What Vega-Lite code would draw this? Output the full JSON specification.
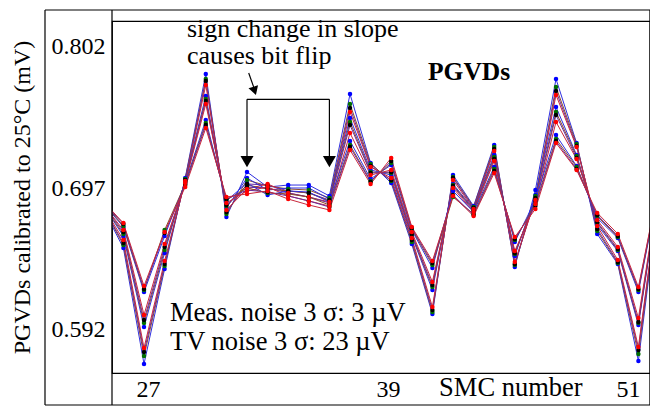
{
  "$schema": "https://vega.github.io/schema/vega-lite/v6.json",
  "width": 538,
  "height": 352,
  "autosize": {"type": "none"},
  "padding": {"left": 112, "top": 21, "right": 0, "bottom": 36},
  "background": "white",
  "config": {"view": {"stroke": "black", "strokeWidth": 1.2}, "font": "Liberation Serif"},
  "data": {"values": [
    {"n":25,"s":"b1","v":0.6822},{"n":25,"s":"g1","v":0.6829},{"n":25,"s":"k1","v":0.6829},{"n":25,"s":"r1","v":0.6836},{"n":25,"s":"b2","v":0.6844},{"n":25,"s":"g2","v":0.6844},{"n":25,"s":"k2","v":0.6851},{"n":25,"s":"r2","v":0.6851},{"n":25,"s":"b3","v":0.6859},{"n":25,"s":"g3","v":0.6866},{"n":25,"s":"k3","v":0.6866},{"n":25,"s":"r3","v":0.6874},
    {"n":26,"s":"b1","v":0.6525},{"n":26,"s":"g1","v":0.6547},{"n":26,"s":"k1","v":0.6562},{"n":26,"s":"r1","v":0.6584},{"n":26,"s":"b2","v":0.6614},{"n":26,"s":"g2","v":0.6629},{"n":26,"s":"k2","v":0.6643},{"n":26,"s":"r2","v":0.6658},{"n":26,"s":"b3","v":0.6681},{"n":26,"s":"g3","v":0.6688},{"n":26,"s":"k3","v":0.6703},{"n":26,"s":"r3","v":0.6710},
    {"n":27,"s":"b1","v":0.5664},{"n":27,"s":"g1","v":0.5723},{"n":27,"s":"k1","v":0.5753},{"n":27,"s":"r1","v":0.5783},{"n":27,"s":"b2","v":0.5939},{"n":27,"s":"g2","v":0.5968},{"n":27,"s":"k2","v":0.5991},{"n":27,"s":"r2","v":0.6028},{"n":27,"s":"b3","v":0.6198},{"n":27,"s":"g3","v":0.6213},{"n":27,"s":"k3","v":0.6221},{"n":27,"s":"r3","v":0.6243},
    {"n":28,"s":"b1","v":0.6369},{"n":28,"s":"g1","v":0.6391},{"n":28,"s":"k1","v":0.6406},{"n":28,"s":"r1","v":0.6428},{"n":28,"s":"b2","v":0.6488},{"n":28,"s":"g2","v":0.6510},{"n":28,"s":"k2","v":0.6532},{"n":28,"s":"r2","v":0.6554},{"n":28,"s":"b3","v":0.6614},{"n":28,"s":"g3","v":0.6658},{"n":28,"s":"k3","v":0.6636},{"n":28,"s":"r3","v":0.6643},
    {"n":29,"s":"b1","v":0.7044},{"n":29,"s":"g1","v":0.7037},{"n":29,"s":"k1","v":0.7029},{"n":29,"s":"r1","v":0.7022},{"n":29,"s":"b2","v":0.7029},{"n":29,"s":"g2","v":0.7022},{"n":29,"s":"k2","v":0.7015},{"n":29,"s":"r2","v":0.7007},{"n":29,"s":"b3","v":0.7007},{"n":29,"s":"g3","v":0.7000},{"n":29,"s":"k3","v":0.6992},{"n":29,"s":"r3","v":0.6977},
    {"n":30,"s":"b1","v":0.7816},{"n":30,"s":"g1","v":0.7779},{"n":30,"s":"k1","v":0.7764},{"n":30,"s":"r1","v":0.7734},{"n":30,"s":"b2","v":0.7653},{"n":30,"s":"g2","v":0.7630},{"n":30,"s":"k2","v":0.7616},{"n":30,"s":"r2","v":0.7593},{"n":30,"s":"b3","v":0.7475},{"n":30,"s":"g3","v":0.7452},{"n":30,"s":"k3","v":0.7437},{"n":30,"s":"r3","v":0.7415},
    {"n":31,"s":"b1","v":0.6755},{"n":31,"s":"g1","v":0.6777},{"n":31,"s":"k1","v":0.6792},{"n":31,"s":"r1","v":0.6807},{"n":31,"s":"b2","v":0.6822},{"n":31,"s":"g2","v":0.6836},{"n":31,"s":"k2","v":0.6844},{"n":31,"s":"r2","v":0.6859},{"n":31,"s":"b3","v":0.6874},{"n":31,"s":"g3","v":0.6881},{"n":31,"s":"k3","v":0.6888},{"n":31,"s":"r3","v":0.6903},
    {"n":32,"s":"b1","v":0.7089},{"n":32,"s":"g1","v":0.7029},{"n":32,"s":"k1","v":0.7000},{"n":32,"s":"r1","v":0.6963},{"n":32,"s":"b2","v":0.7044},{"n":32,"s":"g2","v":0.6992},{"n":32,"s":"k2","v":0.6977},{"n":32,"s":"r2","v":0.6948},{"n":32,"s":"b3","v":0.7007},{"n":32,"s":"g3","v":0.6970},{"n":32,"s":"k3","v":0.6955},{"n":32,"s":"r3","v":0.6926},
    {"n":33,"s":"b1","v":0.6977},{"n":33,"s":"g1","v":0.6985},{"n":33,"s":"k1","v":0.6992},{"n":33,"s":"r1","v":0.7000},{"n":33,"s":"b2","v":0.6955},{"n":33,"s":"g2","v":0.6963},{"n":33,"s":"k2","v":0.6970},{"n":33,"s":"r2","v":0.6977},{"n":33,"s":"b3","v":0.6918},{"n":33,"s":"g3","v":0.6933},{"n":33,"s":"k3","v":0.6940},{"n":33,"s":"r3","v":0.6948},
    {"n":34,"s":"b1","v":0.6992},{"n":34,"s":"g1","v":0.6963},{"n":34,"s":"k1","v":0.6948},{"n":34,"s":"r1","v":0.6933},{"n":34,"s":"b2","v":0.6970},{"n":34,"s":"g2","v":0.6948},{"n":34,"s":"k2","v":0.6933},{"n":34,"s":"r2","v":0.6911},{"n":34,"s":"b3","v":0.6948},{"n":34,"s":"g3","v":0.6926},{"n":34,"s":"k3","v":0.6911},{"n":34,"s":"r3","v":0.6888},
    {"n":35,"s":"b1","v":0.6992},{"n":35,"s":"g1","v":0.6955},{"n":35,"s":"k1","v":0.6933},{"n":35,"s":"r1","v":0.6903},{"n":35,"s":"b2","v":0.6970},{"n":35,"s":"g2","v":0.6933},{"n":35,"s":"k2","v":0.6903},{"n":35,"s":"r2","v":0.6874},{"n":35,"s":"b3","v":0.6940},{"n":35,"s":"g3","v":0.6903},{"n":35,"s":"k3","v":0.6874},{"n":35,"s":"r3","v":0.6844},
    {"n":36,"s":"b1","v":0.6911},{"n":36,"s":"g1","v":0.6896},{"n":36,"s":"k1","v":0.6881},{"n":36,"s":"r1","v":0.6866},{"n":36,"s":"b2","v":0.6888},{"n":36,"s":"g2","v":0.6874},{"n":36,"s":"k2","v":0.6859},{"n":36,"s":"r2","v":0.6836},{"n":36,"s":"b3","v":0.6866},{"n":36,"s":"g3","v":0.6844},{"n":36,"s":"k3","v":0.6829},{"n":36,"s":"r3","v":0.6807},
    {"n":37,"s":"b1","v":0.7667},{"n":37,"s":"g1","v":0.7593},{"n":37,"s":"k1","v":0.7564},{"n":37,"s":"r1","v":0.7534},{"n":37,"s":"b2","v":0.7489},{"n":37,"s":"g2","v":0.7460},{"n":37,"s":"k2","v":0.7437},{"n":37,"s":"r2","v":0.7378},{"n":37,"s":"b3","v":0.7319},{"n":37,"s":"g3","v":0.7289},{"n":37,"s":"k3","v":0.7274},{"n":37,"s":"r3","v":0.7252},
    {"n":38,"s":"b1","v":0.7155},{"n":38,"s":"g1","v":0.7148},{"n":38,"s":"k1","v":0.7133},{"n":38,"s":"r1","v":0.7126},{"n":38,"s":"b2","v":0.7104},{"n":38,"s":"g2","v":0.7089},{"n":38,"s":"k2","v":0.7081},{"n":38,"s":"r2","v":0.7066},{"n":38,"s":"b3","v":0.7037},{"n":38,"s":"g3","v":0.7022},{"n":38,"s":"k3","v":0.7015},{"n":38,"s":"r3","v":0.7000},
    {"n":39,"s":"b1","v":0.7007},{"n":39,"s":"g1","v":0.7022},{"n":39,"s":"k1","v":0.7029},{"n":39,"s":"r1","v":0.7044},{"n":39,"s":"b2","v":0.7066},{"n":39,"s":"g2","v":0.7081},{"n":39,"s":"k2","v":0.7089},{"n":39,"s":"r2","v":0.7104},{"n":39,"s":"b3","v":0.7141},{"n":39,"s":"g3","v":0.7155},{"n":39,"s":"k3","v":0.7170},{"n":39,"s":"r3","v":0.7193},
    {"n":40,"s":"b1","v":0.6554},{"n":40,"s":"g1","v":0.6569},{"n":40,"s":"k1","v":0.6584},{"n":40,"s":"r1","v":0.6599},{"n":40,"s":"b2","v":0.6614},{"n":40,"s":"g2","v":0.6621},{"n":40,"s":"k2","v":0.6629},{"n":40,"s":"r2","v":0.6643},{"n":40,"s":"b3","v":0.6658},{"n":40,"s":"g3","v":0.6666},{"n":40,"s":"k3","v":0.6673},{"n":40,"s":"r3","v":0.6681},
    {"n":41,"s":"b1","v":0.6035},{"n":41,"s":"g1","v":0.6050},{"n":41,"s":"k1","v":0.6065},{"n":41,"s":"r1","v":0.6087},{"n":41,"s":"b2","v":0.6213},{"n":41,"s":"g2","v":0.6235},{"n":41,"s":"k2","v":0.6250},{"n":41,"s":"r2","v":0.6273},{"n":41,"s":"b3","v":0.6376},{"n":41,"s":"g3","v":0.6399},{"n":41,"s":"k3","v":0.6413},{"n":41,"s":"r3","v":0.6428},
    {"n":42,"s":"b1","v":0.7066},{"n":42,"s":"g1","v":0.7052},{"n":42,"s":"k1","v":0.7044},{"n":42,"s":"r1","v":0.7029},{"n":42,"s":"b2","v":0.7000},{"n":42,"s":"g2","v":0.6992},{"n":42,"s":"k2","v":0.6985},{"n":42,"s":"r2","v":0.6970},{"n":42,"s":"b3","v":0.6948},{"n":42,"s":"g3","v":0.6903},{"n":42,"s":"k3","v":0.6918},{"n":42,"s":"r3","v":0.6911},
    {"n":43,"s":"b1","v":0.6836},{"n":43,"s":"g1","v":0.6829},{"n":43,"s":"k1","v":0.6822},{"n":43,"s":"r1","v":0.6814},{"n":43,"s":"b2","v":0.6814},{"n":43,"s":"g2","v":0.6807},{"n":43,"s":"k2","v":0.6799},{"n":43,"s":"r2","v":0.6792},{"n":43,"s":"b3","v":0.6792},{"n":43,"s":"g3","v":0.6777},{"n":43,"s":"k3","v":0.6770},{"n":43,"s":"r3","v":0.6762},
    {"n":44,"s":"b1","v":0.7289},{"n":44,"s":"g1","v":0.7274},{"n":44,"s":"k1","v":0.7259},{"n":44,"s":"r1","v":0.7245},{"n":44,"s":"b2","v":0.7215},{"n":44,"s":"g2","v":0.7200},{"n":44,"s":"k2","v":0.7185},{"n":44,"s":"r2","v":0.7170},{"n":44,"s":"b3","v":0.7126},{"n":44,"s":"g3","v":0.7111},{"n":44,"s":"k3","v":0.7096},{"n":44,"s":"r3","v":0.7081},
    {"n":45,"s":"b1","v":0.6384},{"n":45,"s":"g1","v":0.6399},{"n":45,"s":"k1","v":0.6406},{"n":45,"s":"r1","v":0.6421},{"n":45,"s":"b2","v":0.6465},{"n":45,"s":"g2","v":0.6480},{"n":45,"s":"k2","v":0.6488},{"n":45,"s":"r2","v":0.6503},{"n":45,"s":"b3","v":0.6569},{"n":45,"s":"g3","v":0.6584},{"n":45,"s":"k3","v":0.6592},{"n":45,"s":"r3","v":0.6606},
    {"n":46,"s":"b1","v":0.6955},{"n":46,"s":"g1","v":0.6911},{"n":46,"s":"k1","v":0.6896},{"n":46,"s":"r1","v":0.6881},{"n":46,"s":"b2","v":0.6918},{"n":46,"s":"g2","v":0.6888},{"n":46,"s":"k2","v":0.6874},{"n":46,"s":"r2","v":0.6851},{"n":46,"s":"b3","v":0.6881},{"n":46,"s":"g3","v":0.6851},{"n":46,"s":"k3","v":0.6836},{"n":46,"s":"r3","v":0.6814},
    {"n":47,"s":"b1","v":0.7779},{"n":47,"s":"g1","v":0.7719},{"n":47,"s":"k1","v":0.7690},{"n":47,"s":"r1","v":0.7660},{"n":47,"s":"b2","v":0.7571},{"n":47,"s":"g2","v":0.7534},{"n":47,"s":"k2","v":0.7512},{"n":47,"s":"r2","v":0.7460},{"n":47,"s":"b3","v":0.7363},{"n":47,"s":"g3","v":0.7334},{"n":47,"s":"k3","v":0.7319},{"n":47,"s":"r3","v":0.7304},
    {"n":48,"s":"b1","v":0.7304},{"n":48,"s":"g1","v":0.7296},{"n":48,"s":"k1","v":0.7282},{"n":48,"s":"r1","v":0.7274},{"n":48,"s":"b2","v":0.7215},{"n":48,"s":"g2","v":0.7207},{"n":48,"s":"k2","v":0.7193},{"n":48,"s":"r2","v":0.7185},{"n":48,"s":"b3","v":0.7133},{"n":48,"s":"g3","v":0.7126},{"n":48,"s":"k3","v":0.7111},{"n":48,"s":"r3","v":0.7104},
    {"n":49,"s":"b1","v":0.6629},{"n":49,"s":"g1","v":0.6651},{"n":49,"s":"k1","v":0.6666},{"n":49,"s":"r1","v":0.6688},{"n":49,"s":"b2","v":0.6695},{"n":49,"s":"g2","v":0.6710},{"n":49,"s":"k2","v":0.6718},{"n":49,"s":"r2","v":0.6733},{"n":49,"s":"b3","v":0.6747},{"n":49,"s":"g3","v":0.6762},{"n":49,"s":"k3","v":0.6770},{"n":49,"s":"r3","v":0.6785},
    {"n":50,"s":"b1","v":0.6406},{"n":50,"s":"g1","v":0.6413},{"n":50,"s":"k1","v":0.6421},{"n":50,"s":"r1","v":0.6436},{"n":50,"s":"b2","v":0.6503},{"n":50,"s":"g2","v":0.6510},{"n":50,"s":"k2","v":0.6517},{"n":50,"s":"r2","v":0.6532},{"n":50,"s":"b3","v":0.6599},{"n":50,"s":"g3","v":0.6606},{"n":50,"s":"k3","v":0.6614},{"n":50,"s":"r3","v":0.6629},
    {"n":51,"s":"b1","v":0.5686},{"n":51,"s":"g1","v":0.5738},{"n":51,"s":"k1","v":0.5768},{"n":51,"s":"r1","v":0.5790},{"n":51,"s":"b2","v":0.5953},{"n":51,"s":"g2","v":0.5968},{"n":51,"s":"k2","v":0.5976},{"n":51,"s":"r2","v":0.6005},{"n":51,"s":"b3","v":0.6198},{"n":51,"s":"g3","v":0.6213},{"n":51,"s":"k3","v":0.6221},{"n":51,"s":"r3","v":0.6235},
    {"n":52,"s":"b1","v":0.6918},{"n":52,"s":"g1","v":0.6926},{"n":52,"s":"k1","v":0.6933},{"n":52,"s":"r1","v":0.6940},{"n":52,"s":"b2","v":0.6948},{"n":52,"s":"g2","v":0.6955},{"n":52,"s":"k2","v":0.6963},{"n":52,"s":"r2","v":0.6970},{"n":52,"s":"b3","v":0.6977},{"n":52,"s":"g3","v":0.6985},{"n":52,"s":"k3","v":0.6992},{"n":52,"s":"r3","v":0.7000}
  ]},
  "layer": [
    {
      "mark": {"type": "line", "clip": true, "strokeWidth": 1},
      "encoding": {
        "x": {"field": "n", "type": "quantitative",
          "scale": {"domain": [25.4466, 51.5631], "nice": false, "zero": false},
          "axis": {"values": [27.19, 38.84, 50.5], "labelExpr": "format(round(datum.value), 'd')", "ticks": false, "domain": false, "grid": false, "labelFlush": false,
            "labelFont": "Liberation Serif", "labelFontSize": 24, "labelColor": "black", "labelPadding": 4, "title": null}},
        "y": {"field": "v", "type": "quantitative",
          "scale": {"domain": [0.55973, 0.820914], "nice": false, "zero": false},
          "axis": {"values": [0.592, 0.697, 0.802], "format": ".3f", "ticks": false, "domain": false, "grid": false,
            "labelFont": "Liberation Serif", "labelFontSize": 24, "labelColor": "black", "labelPadding": 7,
            "title": "PGVDs calibrated to 25°C (mV)", "titleFont": "Liberation Serif", "titleFontSize": 24,
            "titleFontWeight": "normal", "titleColor": "black", "titlePadding": 17}},
        "stroke": {"field": "s", "type": "nominal", "legend": null,
          "scale": {"domain": ["b1","b2","b3","g1","g2","g3","k1","k2","k3","r1","r2","r3"],
            "range": ["#2f2fe0","#2f2fe0","#2f2fe0","#8a4a2a","#8a4a2a","#8a4a2a","#6a2a9a","#6a2a9a","#6a2a9a","#c8283c","#c8283c","#c8283c"]}}
      }
    },
    {
      "mark": {"type": "point", "filled": true, "clip": true, "size": 20, "opacity": 1, "shape": "circle"},
      "encoding": {
        "x": {"field": "n", "type": "quantitative"},
        "y": {"field": "v", "type": "quantitative"},
        "fill": {"field": "s", "type": "nominal", "legend": null,
          "scale": {"domain": ["b1","b2","b3","g1","g2","g3","k1","k2","k3","r1","r2","r3"],
            "range": ["#0000ff","#0000ff","#0000ff","#007000","#007000","#007000","#000000","#000000","#000000","#ff0000","#ff0000","#ff0000"]}},
        "order": {"field": "s", "type": "nominal"}
      }
    },
    {"data": {"values": [{}]}, "mark": {"type": "rule", "color": "black", "strokeWidth": 1.2},
      "encoding": {"x": {"datum": 22.194}, "y": {"datum": 0.829076}, "y2": {"datum": 0.535986}}},
    {"data": {"values": [{}]}, "mark": {"type": "rule", "color": "black", "strokeWidth": 1.2},
      "encoding": {"x": {"datum": 25.4466}, "y": {"datum": 0.829076}, "y2": {"datum": 0.535986}}},
    {"data": {"values": [{}]}, "mark": {"type": "rule", "color": "black", "strokeWidth": 1.2},
      "encoding": {"x": {"datum": 51.56}, "y": {"datum": 0.829076}, "y2": {"datum": 0.535986}}},
    {"data": {"values": [{}]}, "mark": {"type": "rule", "color": "black", "strokeWidth": 1.2},
      "encoding": {"x": {"datum": 22.194}, "x2": {"datum": 51.5631}, "y": {"datum": 0.829076}}},
    {"data": {"values": [{}]}, "mark": {"type": "rule", "color": "black", "strokeWidth": 1.2},
      "encoding": {"x": {"datum": 22.194}, "x2": {"datum": 51.5631}, "y": {"datum": 0.535986}}},
    {"data": {"values": [{}]}, "mark": {"type": "rule", "color": "black", "strokeWidth": 1.2},
      "encoding": {"x": {"datum": 32}, "x2": {"datum": 36}, "y": {"datum": 0.76282}}},
    {"data": {"values": [{}]}, "mark": {"type": "rule", "color": "black", "strokeWidth": 1.2},
      "encoding": {"x": {"datum": 32}, "y": {"datum": 0.76282}, "y2": {"datum": 0.7193}}},
    {"data": {"values": [{}]}, "mark": {"type": "rule", "color": "black", "strokeWidth": 1.2},
      "encoding": {"x": {"datum": 36}, "y": {"datum": 0.76282}, "y2": {"datum": 0.7193}}},
    {"data": {"values": [{}]}, "mark": {"type": "point", "shape": "triangle-down", "filled": true, "color": "black", "size": 169, "opacity": 1},
      "encoding": {"x": {"datum": 32}, "y": {"datum": 0.71652}}},
    {"data": {"values": [{}]}, "mark": {"type": "point", "shape": "triangle-down", "filled": true, "color": "black", "size": 169, "opacity": 1},
      "encoding": {"x": {"datum": 36}, "y": {"datum": 0.71652}}},
    {"data": {"values": [{}]}, "mark": {"type": "rule", "color": "black", "strokeWidth": 1.2},
      "encoding": {"x": {"datum": 32.083}, "x2": {"datum": 32.33}, "y": {"datum": 0.78233}, "y2": {"datum": 0.7717}}},
    {"data": {"values": [{}]}, "mark": {"type": "point", "shape": "triangle-down", "filled": true, "color": "black", "size": 100, "opacity": 1, "angle": -18},
      "encoding": {"x": {"datum": 32.369}, "y": {"datum": 0.76905}}},
    {"data": {"values": [{}]}, "mark": {"type": "text", "text": ["sign change in slope", "causes bit flip"], "align": "left", "baseline": "alphabetic", "lineHeight": 27, "fontSize": 26, "font": "Liberation Serif", "color": "black"},
      "encoding": {"x": {"datum": 29.087}, "y": {"datum": 0.8090}}},
    {"data": {"values": [{}]}, "mark": {"type": "text", "text": "PGVDs", "align": "left", "baseline": "alphabetic", "fontSize": 25.5, "fontWeight": "bold", "font": "Liberation Serif", "color": "black"},
      "encoding": {"x": {"datum": 40.786}, "y": {"datum": 0.77714}}},
    {"data": {"values": [{}]}, "mark": {"type": "text", "text": ["Meas. noise 3 σ: 3 µV", "TV noise 3 σ: 23 µV"], "align": "left", "baseline": "alphabetic", "lineHeight": 29, "fontSize": 26.5, "font": "Liberation Serif", "color": "black"},
      "encoding": {"x": {"datum": 28.262}, "y": {"datum": 0.5985}}},
    {"data": {"values": [{}]}, "mark": {"type": "text", "text": "SMC number", "align": "center", "baseline": "middle", "fontSize": 26.5, "font": "Liberation Serif", "color": "black"},
      "encoding": {"x": {"datum": 44.81}, "y": {"datum": 0.5486}}}
  ]
}
